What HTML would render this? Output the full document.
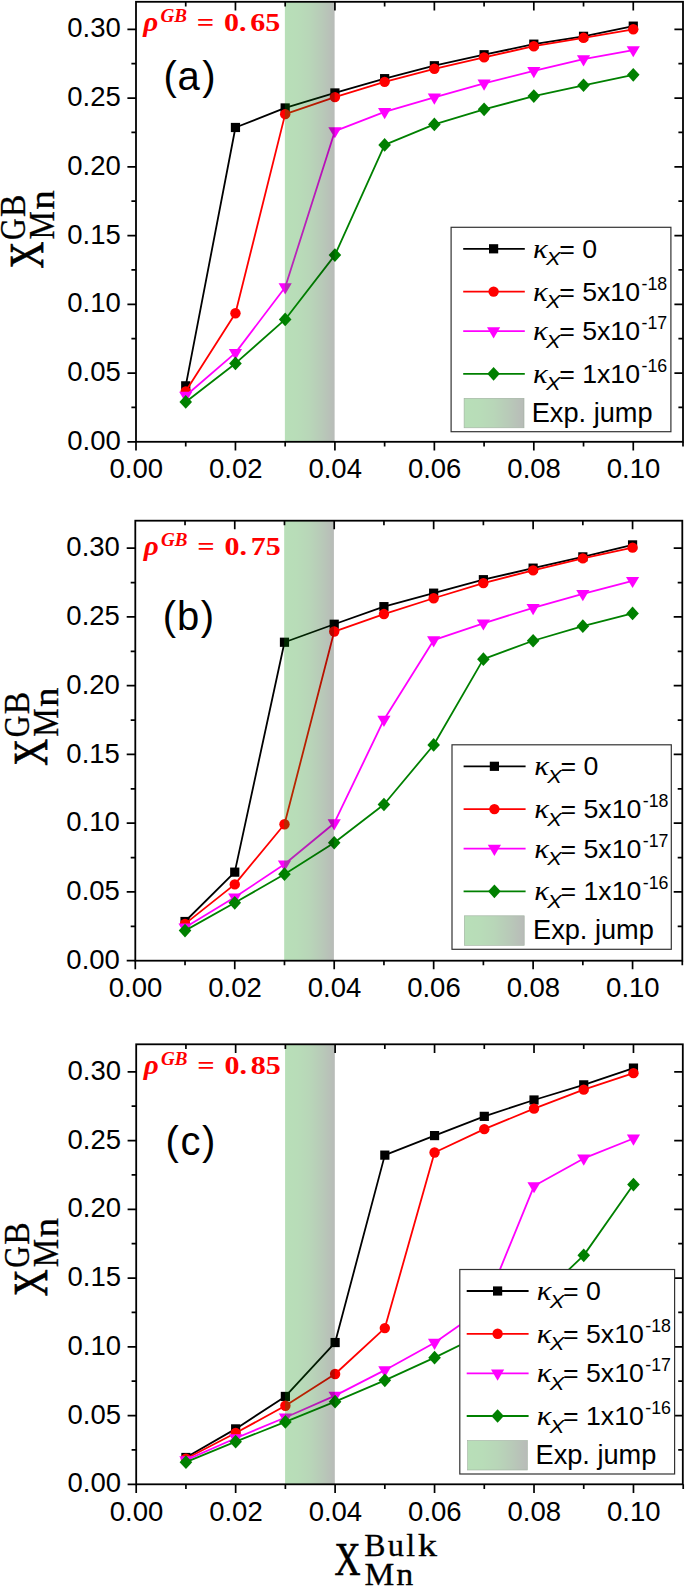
<!DOCTYPE html>
<html lang="en"><head><meta charset="utf-8"><title>Figure</title>
<style>html,body{margin:0;padding:0;background:#fff}svg{display:block}text{white-space:pre}</style>
</head><body>
<svg width="685" height="1587" viewBox="0 0 685 1587">
<defs><linearGradient id="band" x1="0" y1="0" x2="1" y2="0">
<stop offset="0" stop-color="#008c00" stop-opacity="0.28"/>
<stop offset="0.25" stop-color="#008400" stop-opacity="0.28"/>
<stop offset="0.5" stop-color="#006c00" stop-opacity="0.28"/>
<stop offset="0.75" stop-color="#004000" stop-opacity="0.28"/>
<stop offset="1" stop-color="#000c00" stop-opacity="0.28"/>
</linearGradient></defs>
<rect width="685" height="1587" fill="#fff"/>
<g>
<polyline fill="none" stroke="#000000" stroke-width="1.8" stroke-linejoin="round" points="185.73,385.84 235.45,127.48 285.18,107.95 334.91,92.96 384.63,78.66 434.36,65.74 484.09,54.74 533.82,44.15 583.54,36.31 633.27,26.14"/>
<rect x="181.13" y="381.24" width="9.2" height="9.2" fill="#000000"/>
<rect x="230.85" y="122.88" width="9.2" height="9.2" fill="#000000"/>
<rect x="280.58" y="103.35" width="9.2" height="9.2" fill="#000000"/>
<rect x="330.31" y="88.36" width="9.2" height="9.2" fill="#000000"/>
<rect x="380.03" y="74.06" width="9.2" height="9.2" fill="#000000"/>
<rect x="429.76" y="61.14" width="9.2" height="9.2" fill="#000000"/>
<rect x="479.49" y="50.14" width="9.2" height="9.2" fill="#000000"/>
<rect x="529.22" y="39.55" width="9.2" height="9.2" fill="#000000"/>
<rect x="578.94" y="31.71" width="9.2" height="9.2" fill="#000000"/>
<rect x="628.67" y="21.54" width="9.2" height="9.2" fill="#000000"/>
<polyline fill="none" stroke="#ff0000" stroke-width="1.8" stroke-linejoin="round" points="185.73,391.34 235.45,313.24 285.18,114.14 334.91,97.09 384.63,81.83 434.36,68.76 484.09,57.35 533.82,46.21 583.54,37.82 633.27,29.3"/>
<circle cx="185.73" cy="391.34" r="5.2" fill="#ff0000"/>
<circle cx="235.45" cy="313.24" r="5.2" fill="#ff0000"/>
<circle cx="285.18" cy="114.14" r="5.2" fill="#ff0000"/>
<circle cx="334.91" cy="97.09" r="5.2" fill="#ff0000"/>
<circle cx="384.63" cy="81.83" r="5.2" fill="#ff0000"/>
<circle cx="434.36" cy="68.76" r="5.2" fill="#ff0000"/>
<circle cx="484.09" cy="57.35" r="5.2" fill="#ff0000"/>
<circle cx="533.82" cy="46.21" r="5.2" fill="#ff0000"/>
<circle cx="583.54" cy="37.82" r="5.2" fill="#ff0000"/>
<circle cx="633.27" cy="29.3" r="5.2" fill="#ff0000"/>
<polyline fill="none" stroke="#ff00ff" stroke-width="1.8" stroke-linejoin="round" points="185.73,395.74 235.45,352.84 285.18,287.25 334.91,131.05 384.63,111.94 434.36,97.36 484.09,83.34 533.82,70.96 583.54,59.14 633.27,50.06"/>
<polygon points="179.13,391.84 192.33,391.84 185.73,403.04" fill="#ff00ff"/>
<polygon points="228.85,348.94 242.05,348.94 235.45,360.14" fill="#ff00ff"/>
<polygon points="278.58,283.35 291.78,283.35 285.18,294.55" fill="#ff00ff"/>
<polygon points="328.31,127.15 341.51,127.15 334.91,138.35" fill="#ff00ff"/>
<polygon points="378.03,108.04 391.24,108.04 384.63,119.24" fill="#ff00ff"/>
<polygon points="427.76,93.46 440.96,93.46 434.36,104.66" fill="#ff00ff"/>
<polygon points="477.49,79.44 490.69,79.44 484.09,90.64" fill="#ff00ff"/>
<polygon points="527.22,67.06 540.42,67.06 533.82,78.26" fill="#ff00ff"/>
<polygon points="576.94,55.24 590.14,55.24 583.54,66.44" fill="#ff00ff"/>
<polygon points="626.67,46.16 639.87,46.16 633.27,57.36" fill="#ff00ff"/>
<polyline fill="none" stroke="#008000" stroke-width="1.8" stroke-linejoin="round" points="185.73,401.93 235.45,363.43 285.18,319.43 334.91,255.08 384.63,144.94 434.36,124.45 484.09,109.33 533.82,96.12 583.54,85.26 633.27,74.81"/>
<polygon points="185.73,395.07 192.03,401.93 185.73,408.78 179.43,401.93" fill="#008000"/>
<polygon points="235.45,356.57 241.75,363.43 235.45,370.28 229.15,363.43" fill="#008000"/>
<polygon points="285.18,312.57 291.48,319.43 285.18,326.28 278.88,319.43" fill="#008000"/>
<polygon points="334.91,248.23 341.21,255.08 334.91,261.93 328.61,255.08" fill="#008000"/>
<polygon points="384.63,138.09 390.94,144.94 384.63,151.79 378.33,144.94" fill="#008000"/>
<polygon points="434.36,117.6 440.66,124.45 434.36,131.3 428.06,124.45" fill="#008000"/>
<polygon points="484.09,102.48 490.39,109.33 484.09,116.18 477.79,109.33" fill="#008000"/>
<polygon points="533.82,89.28 540.12,96.12 533.82,102.97 527.52,96.12" fill="#008000"/>
<polygon points="583.54,78.41 589.84,85.26 583.54,92.11 577.24,85.26" fill="#008000"/>
<polygon points="633.27,67.96 639.57,74.81 633.27,81.66 626.97,74.81" fill="#008000"/>
<rect x="284.88" y="1.8" width="49.73" height="440" fill="url(#band)"/>
<rect x="136" y="1.8" width="547" height="440" fill="none" stroke="#000" stroke-width="1.8"/>
<path d="M136 441.8v8.6M185.73 1.8v4.6M185.73 441.8v4.6M235.45 1.8v8.6M235.45 441.8v8.6M285.18 1.8v4.6M285.18 441.8v4.6M334.91 1.8v8.6M334.91 441.8v8.6M384.63 1.8v4.6M384.63 441.8v4.6M434.36 1.8v8.6M434.36 441.8v8.6M484.09 1.8v4.6M484.09 441.8v4.6M533.82 1.8v8.6M533.82 441.8v8.6M583.54 1.8v4.6M583.54 441.8v4.6M633.27 1.8v8.6M633.27 441.8v8.6M683 441.8v4.6M136 441.8h-8.6M136 407.43h-4.6M683 407.43h-4.6M136 373.05h-8.6M683 373.05h-8.6M136 338.68h-4.6M683 338.68h-4.6M136 304.3h-8.6M683 304.3h-8.6M136 269.93h-4.6M683 269.93h-4.6M136 235.55h-8.6M683 235.55h-8.6M136 201.17h-4.6M683 201.17h-4.6M136 166.8h-8.6M683 166.8h-8.6M136 132.43h-4.6M683 132.43h-4.6M136 98.05h-8.6M683 98.05h-8.6M136 63.67h-4.6M683 63.67h-4.6M136 29.3h-8.6M683 29.3h-8.6" stroke="#000" stroke-width="1.7" fill="none"/>
<g font-family='"Liberation Sans", Arial, sans-serif' font-size="27.5" fill="#000">
<text x="120.8" y="449.9" text-anchor="end">0.00</text>
<text x="120.8" y="381.15" text-anchor="end">0.05</text>
<text x="120.8" y="312.4" text-anchor="end">0.10</text>
<text x="120.8" y="243.65" text-anchor="end">0.15</text>
<text x="120.8" y="174.9" text-anchor="end">0.20</text>
<text x="120.8" y="106.15" text-anchor="end">0.25</text>
<text x="120.8" y="37.4" text-anchor="end">0.30</text>
<text x="136.3" y="478.3" text-anchor="middle">0.00</text>
<text x="235.75" y="478.3" text-anchor="middle">0.02</text>
<text x="335.21" y="478.3" text-anchor="middle">0.04</text>
<text x="434.66" y="478.3" text-anchor="middle">0.06</text>
<text x="534.12" y="478.3" text-anchor="middle">0.08</text>
<text x="633.57" y="478.3" text-anchor="middle">0.10</text>
</g>
<text x="163.6 177.45 202.35" y="90.3" font-family='"Liberation Sans", Arial, sans-serif' font-size="40" fill="#000">(a)</text>
<g font-family='"Liberation Serif", "Times New Roman", serif' font-weight="bold" fill="#ff0000" stroke="#ff0000" stroke-width="0">
<text x="143.3" y="30.8" font-size="27" font-style="italic" textLength="15.0" lengthAdjust="spacingAndGlyphs">&#961;</text>
<text x="160.6" y="22.2" font-size="17.8" font-style="italic" textLength="26.5" lengthAdjust="spacingAndGlyphs">GB</text>
<text x="196.8" y="30.8" font-size="24.2" textLength="17.5" lengthAdjust="spacingAndGlyphs">=</text>
<text x="224" y="30.8" font-size="24.2" textLength="22.5" lengthAdjust="spacingAndGlyphs">0.</text>
<text x="250.3" y="30.8" font-size="24.2" textLength="30.0" lengthAdjust="spacingAndGlyphs">65</text>
</g>
<g transform="translate(43.1,268) rotate(-90)" font-family='"Liberation Serif", "Times New Roman", serif' fill="#000" stroke="#000" stroke-width="0.3">
<text x="-0.5" y="0.3" font-size="47.5" textLength="26.8" lengthAdjust="spacingAndGlyphs" stroke-width="0.7">X</text>
<text x="28" y="-18.4" font-size="35.5" textLength="21.6" lengthAdjust="spacingAndGlyphs">G</text>
<text x="51" y="-18.4" font-size="35.5" textLength="22.4" lengthAdjust="spacingAndGlyphs">B</text>
<text x="28.4" y="11.3" font-size="35" textLength="28.4" lengthAdjust="spacingAndGlyphs">M</text>
<text x="58.3" y="11.3" font-size="35" textLength="19.5" lengthAdjust="spacingAndGlyphs">n</text>
</g>
<rect x="451.1" y="227.3" width="219.8" height="204.4" fill="#fff" stroke="#333" stroke-width="1.2"/>
<path d="M463.2 248.8H524.8" stroke="#000000" stroke-width="1.8"/>
<rect x="489" y="244.2" width="9.2" height="9.2" fill="#000000"/>
<text font-family='"Liberation Serif", "Times New Roman", serif' font-style="italic" font-size="27" transform="translate(533,257.8) scale(1.13,1)">&#954;</text>
<text x="545.9" y="265.4" font-family='"Liberation Sans", Arial, sans-serif' font-style="italic" font-size="19" textLength="14.5" lengthAdjust="spacingAndGlyphs">X</text>
<text x="559.2" y="257.8" font-family='"Liberation Sans", Arial, sans-serif' font-size="26.7">= 0</text>
<path d="M463.2 291.6H524.8" stroke="#ff0000" stroke-width="1.8"/>
<circle cx="493.6" cy="291.6" r="5.2" fill="#ff0000"/>
<text font-family='"Liberation Serif", "Times New Roman", serif' font-style="italic" font-size="27" transform="translate(533,300.6) scale(1.13,1)">&#954;</text>
<text x="545.9" y="308.2" font-family='"Liberation Sans", Arial, sans-serif' font-style="italic" font-size="19" textLength="14.5" lengthAdjust="spacingAndGlyphs">X</text>
<text x="559.2" y="300.6" font-family='"Liberation Sans", Arial, sans-serif' font-size="26.7">= 5x10</text>
<text x="641.5" y="289.6" font-family='"Liberation Sans", Arial, sans-serif' font-size="17.8">-18</text>
<path d="M463.2 331.2H524.8" stroke="#ff00ff" stroke-width="1.8"/>
<polygon points="487,327.3 500.2,327.3 493.6,338.5" fill="#ff00ff"/>
<text font-family='"Liberation Serif", "Times New Roman", serif' font-style="italic" font-size="27" transform="translate(533,340.2) scale(1.13,1)">&#954;</text>
<text x="545.9" y="347.8" font-family='"Liberation Sans", Arial, sans-serif' font-style="italic" font-size="19" textLength="14.5" lengthAdjust="spacingAndGlyphs">X</text>
<text x="559.2" y="340.2" font-family='"Liberation Sans", Arial, sans-serif' font-size="26.7">= 5x10</text>
<text x="641.5" y="329.2" font-family='"Liberation Sans", Arial, sans-serif' font-size="17.8">-17</text>
<path d="M463.2 373.8H524.8" stroke="#008000" stroke-width="1.8"/>
<polygon points="493.6,366.95 499.9,373.8 493.6,380.65 487.3,373.8" fill="#008000"/>
<text font-family='"Liberation Serif", "Times New Roman", serif' font-style="italic" font-size="27" transform="translate(533,382.8) scale(1.13,1)">&#954;</text>
<text x="545.9" y="390.4" font-family='"Liberation Sans", Arial, sans-serif' font-style="italic" font-size="19" textLength="14.5" lengthAdjust="spacingAndGlyphs">X</text>
<text x="559.2" y="382.8" font-family='"Liberation Sans", Arial, sans-serif' font-size="26.7">= 1x10</text>
<text x="641.5" y="371.8" font-family='"Liberation Sans", Arial, sans-serif' font-size="17.8">-16</text>
<rect x="464.1" y="398.3" width="59.9" height="29.5" fill="url(#band)" stroke="#9fb09f" stroke-width="0.6"/>
<text x="531.7" y="421.9" font-family='"Liberation Sans", Arial, sans-serif' font-size="27.2" fill="#000">Exp. jump</text>
</g>
<g>
<polyline fill="none" stroke="#000000" stroke-width="1.8" stroke-linejoin="round" points="185.03,921.51 234.75,872.15 284.48,642.25 334.21,624.24 383.94,606.64 433.66,593.16 483.39,579.69 533.12,568.14 582.84,556.86 632.57,544.9"/>
<rect x="180.43" y="916.91" width="9.2" height="9.2" fill="#000000"/>
<rect x="230.15" y="867.55" width="9.2" height="9.2" fill="#000000"/>
<rect x="279.88" y="637.65" width="9.2" height="9.2" fill="#000000"/>
<rect x="329.61" y="619.64" width="9.2" height="9.2" fill="#000000"/>
<rect x="379.33" y="602.04" width="9.2" height="9.2" fill="#000000"/>
<rect x="429.06" y="588.56" width="9.2" height="9.2" fill="#000000"/>
<rect x="478.79" y="575.09" width="9.2" height="9.2" fill="#000000"/>
<rect x="528.52" y="563.54" width="9.2" height="9.2" fill="#000000"/>
<rect x="578.24" y="552.26" width="9.2" height="9.2" fill="#000000"/>
<rect x="627.97" y="540.3" width="9.2" height="9.2" fill="#000000"/>
<polyline fill="none" stroke="#ff0000" stroke-width="1.8" stroke-linejoin="round" points="185.03,923.85 234.75,884.39 284.48,824.3 334.21,631.53 383.94,614.06 433.66,598.25 483.39,583.12 533.12,570.34 582.84,558.38 632.57,547.65"/>
<circle cx="185.03" cy="923.85" r="5.2" fill="#ff0000"/>
<circle cx="234.75" cy="884.39" r="5.2" fill="#ff0000"/>
<circle cx="284.48" cy="824.3" r="5.2" fill="#ff0000"/>
<circle cx="334.21" cy="631.53" r="5.2" fill="#ff0000"/>
<circle cx="383.94" cy="614.06" r="5.2" fill="#ff0000"/>
<circle cx="433.66" cy="598.25" r="5.2" fill="#ff0000"/>
<circle cx="483.39" cy="583.12" r="5.2" fill="#ff0000"/>
<circle cx="533.12" cy="570.34" r="5.2" fill="#ff0000"/>
<circle cx="582.84" cy="558.38" r="5.2" fill="#ff0000"/>
<circle cx="632.57" cy="547.65" r="5.2" fill="#ff0000"/>
<polyline fill="none" stroke="#ff00ff" stroke-width="1.8" stroke-linejoin="round" points="185.03,927.43 234.75,897.31 284.48,864.31 334.21,823.2 383.94,719.66 433.66,640.19 483.39,623.28 533.12,607.88 582.84,593.99 632.57,580.79"/>
<polygon points="178.43,923.53 191.63,923.53 185.03,934.73" fill="#ff00ff"/>
<polygon points="228.15,893.41 241.35,893.41 234.75,904.61" fill="#ff00ff"/>
<polygon points="277.88,860.41 291.08,860.41 284.48,871.61" fill="#ff00ff"/>
<polygon points="327.61,819.3 340.81,819.3 334.21,830.5" fill="#ff00ff"/>
<polygon points="377.33,715.76 390.54,715.76 383.94,726.96" fill="#ff00ff"/>
<polygon points="427.06,636.29 440.26,636.29 433.66,647.49" fill="#ff00ff"/>
<polygon points="476.79,619.38 489.99,619.38 483.39,630.58" fill="#ff00ff"/>
<polygon points="526.52,603.98 539.72,603.98 533.12,615.17" fill="#ff00ff"/>
<polygon points="576.24,590.09 589.44,590.09 582.84,601.29" fill="#ff00ff"/>
<polygon points="625.97,576.89 639.17,576.89 632.57,588.09" fill="#ff00ff"/>
<polyline fill="none" stroke="#008000" stroke-width="1.8" stroke-linejoin="round" points="185.03,930.59 234.75,902.81 284.48,874.21 334.21,842.73 383.94,804.5 433.66,744.96 483.39,659.16 533.12,640.74 582.84,626.16 632.57,613.38"/>
<polygon points="185.03,923.74 191.33,930.59 185.03,937.44 178.73,930.59" fill="#008000"/>
<polygon points="234.75,895.96 241.05,902.81 234.75,909.66 228.45,902.81" fill="#008000"/>
<polygon points="284.48,867.36 290.78,874.21 284.48,881.06 278.18,874.21" fill="#008000"/>
<polygon points="334.21,835.88 340.51,842.73 334.21,849.58 327.91,842.73" fill="#008000"/>
<polygon points="383.94,797.65 390.24,804.5 383.94,811.35 377.63,804.5" fill="#008000"/>
<polygon points="433.66,738.11 439.96,744.96 433.66,751.81 427.36,744.96" fill="#008000"/>
<polygon points="483.39,652.31 489.69,659.16 483.39,666.01 477.09,659.16" fill="#008000"/>
<polygon points="533.12,633.89 539.42,640.74 533.12,647.59 526.82,640.74" fill="#008000"/>
<polygon points="582.84,619.31 589.14,626.16 582.84,633.01 576.54,626.16" fill="#008000"/>
<polygon points="632.57,606.52 638.87,613.38 632.57,620.23 626.27,613.38" fill="#008000"/>
<rect x="284.18" y="520.7" width="49.73" height="440" fill="url(#band)"/>
<rect x="135.3" y="520.7" width="547" height="440" fill="none" stroke="#000" stroke-width="1.8"/>
<path d="M135.3 960.7v8.6M185.03 520.7v4.6M185.03 960.7v4.6M234.75 520.7v8.6M234.75 960.7v8.6M284.48 520.7v4.6M284.48 960.7v4.6M334.21 520.7v8.6M334.21 960.7v8.6M383.94 520.7v4.6M383.94 960.7v4.6M433.66 520.7v8.6M433.66 960.7v8.6M483.39 520.7v4.6M483.39 960.7v4.6M533.12 520.7v8.6M533.12 960.7v8.6M582.84 520.7v4.6M582.84 960.7v4.6M632.57 520.7v8.6M632.57 960.7v8.6M682.3 960.7v4.6M135.3 960.7h-8.6M135.3 926.33h-4.6M682.3 926.33h-4.6M135.3 891.95h-8.6M682.3 891.95h-8.6M135.3 857.58h-4.6M682.3 857.58h-4.6M135.3 823.2h-8.6M682.3 823.2h-8.6M135.3 788.83h-4.6M682.3 788.83h-4.6M135.3 754.45h-8.6M682.3 754.45h-8.6M135.3 720.08h-4.6M682.3 720.08h-4.6M135.3 685.7h-8.6M682.3 685.7h-8.6M135.3 651.33h-4.6M682.3 651.33h-4.6M135.3 616.95h-8.6M682.3 616.95h-8.6M135.3 582.58h-4.6M682.3 582.58h-4.6M135.3 548.2h-8.6M682.3 548.2h-8.6" stroke="#000" stroke-width="1.7" fill="none"/>
<g font-family='"Liberation Sans", Arial, sans-serif' font-size="27.5" fill="#000">
<text x="119.9" y="968.8" text-anchor="end">0.00</text>
<text x="119.9" y="900.05" text-anchor="end">0.05</text>
<text x="119.9" y="831.3" text-anchor="end">0.10</text>
<text x="119.9" y="762.55" text-anchor="end">0.15</text>
<text x="119.9" y="693.8" text-anchor="end">0.20</text>
<text x="119.9" y="625.05" text-anchor="end">0.25</text>
<text x="119.9" y="556.3" text-anchor="end">0.30</text>
<text x="135.6" y="997.2" text-anchor="middle">0.00</text>
<text x="235.05" y="997.2" text-anchor="middle">0.02</text>
<text x="334.51" y="997.2" text-anchor="middle">0.04</text>
<text x="433.96" y="997.2" text-anchor="middle">0.06</text>
<text x="533.42" y="997.2" text-anchor="middle">0.08</text>
<text x="632.87" y="997.2" text-anchor="middle">0.10</text>
</g>
<text x="162.8 176.9 200.8" y="629.8" font-family='"Liberation Sans", Arial, sans-serif' font-size="40" fill="#000">(b)</text>
<g font-family='"Liberation Serif", "Times New Roman", serif' font-weight="bold" fill="#ff0000" stroke="#ff0000" stroke-width="0">
<text x="143.8" y="554.5" font-size="27" font-style="italic" textLength="15.0" lengthAdjust="spacingAndGlyphs">&#961;</text>
<text x="161.1" y="545.9" font-size="17.8" font-style="italic" textLength="26.5" lengthAdjust="spacingAndGlyphs">GB</text>
<text x="197.3" y="554.5" font-size="24.2" textLength="17.5" lengthAdjust="spacingAndGlyphs">=</text>
<text x="224.5" y="554.5" font-size="24.2" textLength="22.5" lengthAdjust="spacingAndGlyphs">0.</text>
<text x="250.8" y="554.5" font-size="24.2" textLength="30.0" lengthAdjust="spacingAndGlyphs">75</text>
</g>
<g transform="translate(47,765.2) rotate(-90)" font-family='"Liberation Serif", "Times New Roman", serif' fill="#000" stroke="#000" stroke-width="0.3">
<text x="-0.5" y="0.3" font-size="47.5" textLength="26.8" lengthAdjust="spacingAndGlyphs" stroke-width="0.7">X</text>
<text x="28" y="-18.4" font-size="35.5" textLength="21.6" lengthAdjust="spacingAndGlyphs">G</text>
<text x="51" y="-18.4" font-size="35.5" textLength="22.4" lengthAdjust="spacingAndGlyphs">B</text>
<text x="28.4" y="11.3" font-size="35" textLength="28.4" lengthAdjust="spacingAndGlyphs">M</text>
<text x="58.3" y="11.3" font-size="35" textLength="19.5" lengthAdjust="spacingAndGlyphs">n</text>
</g>
<rect x="452" y="744.8" width="219.3" height="204.5" fill="#fff" stroke="#333" stroke-width="1.2"/>
<path d="M463.6 766.3H525.6" stroke="#000000" stroke-width="1.8"/>
<rect x="489.8" y="761.7" width="9.2" height="9.2" fill="#000000"/>
<text font-family='"Liberation Serif", "Times New Roman", serif' font-style="italic" font-size="27" transform="translate(534.3,775.3) scale(1.13,1)">&#954;</text>
<text x="547.2" y="782.9" font-family='"Liberation Sans", Arial, sans-serif' font-style="italic" font-size="19" textLength="14.5" lengthAdjust="spacingAndGlyphs">X</text>
<text x="560.5" y="775.3" font-family='"Liberation Sans", Arial, sans-serif' font-size="26.7">= 0</text>
<path d="M463.6 809.1H525.6" stroke="#ff0000" stroke-width="1.8"/>
<circle cx="494.4" cy="809.1" r="5.2" fill="#ff0000"/>
<text font-family='"Liberation Serif", "Times New Roman", serif' font-style="italic" font-size="27" transform="translate(534.3,818.1) scale(1.13,1)">&#954;</text>
<text x="547.2" y="825.7" font-family='"Liberation Sans", Arial, sans-serif' font-style="italic" font-size="19" textLength="14.5" lengthAdjust="spacingAndGlyphs">X</text>
<text x="560.5" y="818.1" font-family='"Liberation Sans", Arial, sans-serif' font-size="26.7">= 5x10</text>
<text x="642.8" y="807.1" font-family='"Liberation Sans", Arial, sans-serif' font-size="17.8">-18</text>
<path d="M463.6 848.7H525.6" stroke="#ff00ff" stroke-width="1.8"/>
<polygon points="487.8,844.8 501,844.8 494.4,856" fill="#ff00ff"/>
<text font-family='"Liberation Serif", "Times New Roman", serif' font-style="italic" font-size="27" transform="translate(534.3,857.7) scale(1.13,1)">&#954;</text>
<text x="547.2" y="865.3" font-family='"Liberation Sans", Arial, sans-serif' font-style="italic" font-size="19" textLength="14.5" lengthAdjust="spacingAndGlyphs">X</text>
<text x="560.5" y="857.7" font-family='"Liberation Sans", Arial, sans-serif' font-size="26.7">= 5x10</text>
<text x="642.8" y="846.7" font-family='"Liberation Sans", Arial, sans-serif' font-size="17.8">-17</text>
<path d="M463.6 891.3H525.6" stroke="#008000" stroke-width="1.8"/>
<polygon points="494.4,884.45 500.7,891.3 494.4,898.15 488.1,891.3" fill="#008000"/>
<text font-family='"Liberation Serif", "Times New Roman", serif' font-style="italic" font-size="27" transform="translate(534.3,900.3) scale(1.13,1)">&#954;</text>
<text x="547.2" y="907.9" font-family='"Liberation Sans", Arial, sans-serif' font-style="italic" font-size="19" textLength="14.5" lengthAdjust="spacingAndGlyphs">X</text>
<text x="560.5" y="900.3" font-family='"Liberation Sans", Arial, sans-serif' font-size="26.7">= 1x10</text>
<text x="642.8" y="889.3" font-family='"Liberation Sans", Arial, sans-serif' font-size="17.8">-16</text>
<rect x="464.3" y="915.8" width="59.9" height="29.5" fill="url(#band)" stroke="#9fb09f" stroke-width="0.6"/>
<text x="533" y="939.4" font-family='"Liberation Sans", Arial, sans-serif' font-size="27.2" fill="#000">Exp. jump</text>
</g>
<g>
<polyline fill="none" stroke="#000000" stroke-width="1.8" stroke-linejoin="round" points="185.93,1457.49 235.65,1428.89 285.38,1396.44 335.11,1342.54 384.83,1155.12 434.56,1135.6 484.29,1116.35 534.02,1099.99 583.74,1084.86 633.47,1068.09"/>
<rect x="181.33" y="1452.89" width="9.2" height="9.2" fill="#000000"/>
<rect x="231.05" y="1424.29" width="9.2" height="9.2" fill="#000000"/>
<rect x="280.78" y="1391.84" width="9.2" height="9.2" fill="#000000"/>
<rect x="330.51" y="1337.94" width="9.2" height="9.2" fill="#000000"/>
<rect x="380.23" y="1150.53" width="9.2" height="9.2" fill="#000000"/>
<rect x="429.96" y="1131" width="9.2" height="9.2" fill="#000000"/>
<rect x="479.69" y="1111.75" width="9.2" height="9.2" fill="#000000"/>
<rect x="529.42" y="1095.39" width="9.2" height="9.2" fill="#000000"/>
<rect x="579.14" y="1080.26" width="9.2" height="9.2" fill="#000000"/>
<rect x="628.87" y="1063.49" width="9.2" height="9.2" fill="#000000"/>
<polyline fill="none" stroke="#ff0000" stroke-width="1.8" stroke-linejoin="round" points="185.93,1458.72 235.65,1433.01 285.38,1405.79 335.11,1374.02 384.83,1328.1 434.56,1152.51 484.29,1129.14 534.02,1108.65 583.74,1089.67 633.47,1073.17"/>
<circle cx="185.93" cy="1458.72" r="5.2" fill="#ff0000"/>
<circle cx="235.65" cy="1433.01" r="5.2" fill="#ff0000"/>
<circle cx="285.38" cy="1405.79" r="5.2" fill="#ff0000"/>
<circle cx="335.11" cy="1374.02" r="5.2" fill="#ff0000"/>
<circle cx="384.83" cy="1328.1" r="5.2" fill="#ff0000"/>
<circle cx="434.56" cy="1152.51" r="5.2" fill="#ff0000"/>
<circle cx="484.29" cy="1129.14" r="5.2" fill="#ff0000"/>
<circle cx="534.02" cy="1108.65" r="5.2" fill="#ff0000"/>
<circle cx="583.74" cy="1089.67" r="5.2" fill="#ff0000"/>
<circle cx="633.47" cy="1073.17" r="5.2" fill="#ff0000"/>
<polyline fill="none" stroke="#ff00ff" stroke-width="1.8" stroke-linejoin="round" points="185.93,1460.1 235.65,1438.24 285.38,1417.47 335.11,1395.61 384.83,1370.17 434.56,1342.67 484.29,1307.89 534.02,1186.06 583.74,1158.42 633.47,1138.49"/>
<polygon points="179.33,1456.2 192.53,1456.2 185.93,1467.4" fill="#ff00ff"/>
<polygon points="229.05,1434.34 242.25,1434.34 235.65,1445.54" fill="#ff00ff"/>
<polygon points="278.78,1413.57 291.98,1413.57 285.38,1424.77" fill="#ff00ff"/>
<polygon points="328.51,1391.71 341.71,1391.71 335.11,1402.91" fill="#ff00ff"/>
<polygon points="378.23,1366.27 391.44,1366.27 384.83,1377.47" fill="#ff00ff"/>
<polygon points="427.96,1338.77 441.16,1338.77 434.56,1349.97" fill="#ff00ff"/>
<polygon points="477.69,1303.99 490.89,1303.99 484.29,1315.19" fill="#ff00ff"/>
<polygon points="527.42,1182.16 540.62,1182.16 534.02,1193.36" fill="#ff00ff"/>
<polygon points="577.14,1154.52 590.34,1154.52 583.74,1165.72" fill="#ff00ff"/>
<polygon points="626.87,1134.59 640.07,1134.59 633.47,1145.79" fill="#ff00ff"/>
<polyline fill="none" stroke="#008000" stroke-width="1.8" stroke-linejoin="round" points="185.93,1462.16 235.65,1441.67 285.38,1421.88 335.11,1401.66 384.83,1380.35 434.56,1357.66 484.29,1333.19 534.02,1302.8 583.74,1255.36 633.47,1184.55"/>
<polygon points="185.93,1455.31 192.23,1462.16 185.93,1469.01 179.63,1462.16" fill="#008000"/>
<polygon points="235.65,1434.83 241.95,1441.67 235.65,1448.52 229.35,1441.67" fill="#008000"/>
<polygon points="285.38,1415.03 291.68,1421.88 285.38,1428.72 279.08,1421.88" fill="#008000"/>
<polygon points="335.11,1394.81 341.41,1401.66 335.11,1408.51 328.81,1401.66" fill="#008000"/>
<polygon points="384.83,1373.5 391.13,1380.35 384.83,1387.2 378.53,1380.35" fill="#008000"/>
<polygon points="434.56,1350.81 440.86,1357.66 434.56,1364.51 428.26,1357.66" fill="#008000"/>
<polygon points="484.29,1326.34 490.59,1333.19 484.29,1340.04 477.99,1333.19" fill="#008000"/>
<polygon points="534.02,1295.95 540.32,1302.8 534.02,1309.65 527.72,1302.8" fill="#008000"/>
<polygon points="583.74,1248.51 590.04,1255.36 583.74,1262.21 577.44,1255.36" fill="#008000"/>
<polygon points="633.47,1177.7 639.77,1184.55 633.47,1191.4 627.17,1184.55" fill="#008000"/>
<rect x="285.08" y="1044.3" width="49.73" height="440" fill="url(#band)"/>
<rect x="136.2" y="1044.3" width="546.6" height="440" fill="none" stroke="#000" stroke-width="1.8"/>
<path d="M136.2 1484.3v8.6M185.93 1044.3v4.6M185.93 1484.3v4.6M235.65 1044.3v8.6M235.65 1484.3v8.6M285.38 1044.3v4.6M285.38 1484.3v4.6M335.11 1044.3v8.6M335.11 1484.3v8.6M384.83 1044.3v4.6M384.83 1484.3v4.6M434.56 1044.3v8.6M434.56 1484.3v8.6M484.29 1044.3v4.6M484.29 1484.3v4.6M534.02 1044.3v8.6M534.02 1484.3v8.6M583.74 1044.3v4.6M583.74 1484.3v4.6M633.47 1044.3v8.6M633.47 1484.3v8.6M683.2 1484.3v4.6M136.2 1484.3h-8.6M136.2 1449.92h-4.6M682.8 1449.92h-4.6M136.2 1415.55h-8.6M682.8 1415.55h-8.6M136.2 1381.17h-4.6M682.8 1381.17h-4.6M136.2 1346.8h-8.6M682.8 1346.8h-8.6M136.2 1312.42h-4.6M682.8 1312.42h-4.6M136.2 1278.05h-8.6M682.8 1278.05h-8.6M136.2 1243.67h-4.6M682.8 1243.67h-4.6M136.2 1209.3h-8.6M682.8 1209.3h-8.6M136.2 1174.92h-4.6M682.8 1174.92h-4.6M136.2 1140.55h-8.6M682.8 1140.55h-8.6M136.2 1106.17h-4.6M682.8 1106.17h-4.6M136.2 1071.8h-8.6M682.8 1071.8h-8.6" stroke="#000" stroke-width="1.7" fill="none"/>
<g font-family='"Liberation Sans", Arial, sans-serif' font-size="27.5" fill="#000">
<text x="121" y="1492.4" text-anchor="end">0.00</text>
<text x="121" y="1423.65" text-anchor="end">0.05</text>
<text x="121" y="1354.9" text-anchor="end">0.10</text>
<text x="121" y="1286.15" text-anchor="end">0.15</text>
<text x="121" y="1217.4" text-anchor="end">0.20</text>
<text x="121" y="1148.65" text-anchor="end">0.25</text>
<text x="121" y="1079.9" text-anchor="end">0.30</text>
<text x="136.5" y="1520.8" text-anchor="middle">0.00</text>
<text x="235.95" y="1520.8" text-anchor="middle">0.02</text>
<text x="335.41" y="1520.8" text-anchor="middle">0.04</text>
<text x="434.86" y="1520.8" text-anchor="middle">0.06</text>
<text x="534.32" y="1520.8" text-anchor="middle">0.08</text>
<text x="633.77" y="1520.8" text-anchor="middle">0.10</text>
</g>
<text x="165.5 180.4 202" y="1155.3" font-family='"Liberation Sans", Arial, sans-serif' font-size="40" fill="#000">(c)</text>
<g font-family='"Liberation Serif", "Times New Roman", serif' font-weight="bold" fill="#ff0000" stroke="#ff0000" stroke-width="0">
<text x="143.8" y="1073.9" font-size="27" font-style="italic" textLength="15.0" lengthAdjust="spacingAndGlyphs">&#961;</text>
<text x="161.1" y="1065.3" font-size="17.8" font-style="italic" textLength="26.5" lengthAdjust="spacingAndGlyphs">GB</text>
<text x="197.3" y="1073.9" font-size="24.2" textLength="17.5" lengthAdjust="spacingAndGlyphs">=</text>
<text x="224.5" y="1073.9" font-size="24.2" textLength="22.5" lengthAdjust="spacingAndGlyphs">0.</text>
<text x="250.8" y="1073.9" font-size="24.2" textLength="30.0" lengthAdjust="spacingAndGlyphs">85</text>
</g>
<g transform="translate(47,1295.7) rotate(-90)" font-family='"Liberation Serif", "Times New Roman", serif' fill="#000" stroke="#000" stroke-width="0.3">
<text x="-0.5" y="0.3" font-size="47.5" textLength="26.8" lengthAdjust="spacingAndGlyphs" stroke-width="0.7">X</text>
<text x="28" y="-18.4" font-size="35.5" textLength="21.6" lengthAdjust="spacingAndGlyphs">G</text>
<text x="51" y="-18.4" font-size="35.5" textLength="22.4" lengthAdjust="spacingAndGlyphs">B</text>
<text x="28.4" y="11.3" font-size="35" textLength="28.4" lengthAdjust="spacingAndGlyphs">M</text>
<text x="58.3" y="11.3" font-size="35" textLength="19.5" lengthAdjust="spacingAndGlyphs">n</text>
</g>
<rect x="459.8" y="1269.5" width="214.8" height="204.5" fill="#fff" stroke="#333" stroke-width="1.2"/>
<path d="M466.7 1291H528.6" stroke="#000000" stroke-width="1.8"/>
<rect x="493" y="1286.4" width="9.2" height="9.2" fill="#000000"/>
<text font-family='"Liberation Serif", "Times New Roman", serif' font-style="italic" font-size="27" transform="translate(536.8,1300) scale(1.13,1)">&#954;</text>
<text x="549.7" y="1307.6" font-family='"Liberation Sans", Arial, sans-serif' font-style="italic" font-size="19" textLength="14.5" lengthAdjust="spacingAndGlyphs">X</text>
<text x="563" y="1300" font-family='"Liberation Sans", Arial, sans-serif' font-size="26.7">= 0</text>
<path d="M466.7 1333.8H528.6" stroke="#ff0000" stroke-width="1.8"/>
<circle cx="497.6" cy="1333.8" r="5.2" fill="#ff0000"/>
<text font-family='"Liberation Serif", "Times New Roman", serif' font-style="italic" font-size="27" transform="translate(536.8,1342.8) scale(1.13,1)">&#954;</text>
<text x="549.7" y="1350.4" font-family='"Liberation Sans", Arial, sans-serif' font-style="italic" font-size="19" textLength="14.5" lengthAdjust="spacingAndGlyphs">X</text>
<text x="563" y="1342.8" font-family='"Liberation Sans", Arial, sans-serif' font-size="26.7">= 5x10</text>
<text x="645.3" y="1331.8" font-family='"Liberation Sans", Arial, sans-serif' font-size="17.8">-18</text>
<path d="M466.7 1373.4H528.6" stroke="#ff00ff" stroke-width="1.8"/>
<polygon points="491,1369.5 504.2,1369.5 497.6,1380.7" fill="#ff00ff"/>
<text font-family='"Liberation Serif", "Times New Roman", serif' font-style="italic" font-size="27" transform="translate(536.8,1382.4) scale(1.13,1)">&#954;</text>
<text x="549.7" y="1390" font-family='"Liberation Sans", Arial, sans-serif' font-style="italic" font-size="19" textLength="14.5" lengthAdjust="spacingAndGlyphs">X</text>
<text x="563" y="1382.4" font-family='"Liberation Sans", Arial, sans-serif' font-size="26.7">= 5x10</text>
<text x="645.3" y="1371.4" font-family='"Liberation Sans", Arial, sans-serif' font-size="17.8">-17</text>
<path d="M466.7 1416H528.6" stroke="#008000" stroke-width="1.8"/>
<polygon points="497.6,1409.15 503.9,1416 497.6,1422.85 491.3,1416" fill="#008000"/>
<text font-family='"Liberation Serif", "Times New Roman", serif' font-style="italic" font-size="27" transform="translate(536.8,1425) scale(1.13,1)">&#954;</text>
<text x="549.7" y="1432.6" font-family='"Liberation Sans", Arial, sans-serif' font-style="italic" font-size="19" textLength="14.5" lengthAdjust="spacingAndGlyphs">X</text>
<text x="563" y="1425" font-family='"Liberation Sans", Arial, sans-serif' font-size="26.7">= 1x10</text>
<text x="645.3" y="1414" font-family='"Liberation Sans", Arial, sans-serif' font-size="17.8">-16</text>
<rect x="467.6" y="1440.5" width="59.7" height="29.5" fill="url(#band)" stroke="#9fb09f" stroke-width="0.6"/>
<text x="535.5" y="1464.1" font-family='"Liberation Sans", Arial, sans-serif' font-size="27.2" fill="#000">Exp. jump</text>
</g>
<g font-family='"Liberation Serif", "Times New Roman", serif' fill="#000" stroke="#000" stroke-width="0.3">
<text x="334.45" y="1574.9" font-size="46" textLength="26" lengthAdjust="spacingAndGlyphs" stroke-width="0.7">X</text>
<text x="364.35" y="1556.1" font-size="32.5" textLength="21.2" lengthAdjust="spacingAndGlyphs">B</text>
<text x="387.7" y="1556.1" font-size="32.5" textLength="16.25" lengthAdjust="spacingAndGlyphs">u</text>
<text x="406.3" y="1556.1" font-size="32.5" textLength="8.8" lengthAdjust="spacingAndGlyphs">l</text>
<text x="417.8" y="1556.1" font-size="32.5" textLength="19.3" lengthAdjust="spacingAndGlyphs">k</text>
<text x="364.5" y="1585.4" font-size="32.5" textLength="29.8" lengthAdjust="spacingAndGlyphs">M</text>
<text x="396.3" y="1585.4" font-size="32.5" textLength="17" lengthAdjust="spacingAndGlyphs">n</text>
</g>
</svg>
</body></html>
